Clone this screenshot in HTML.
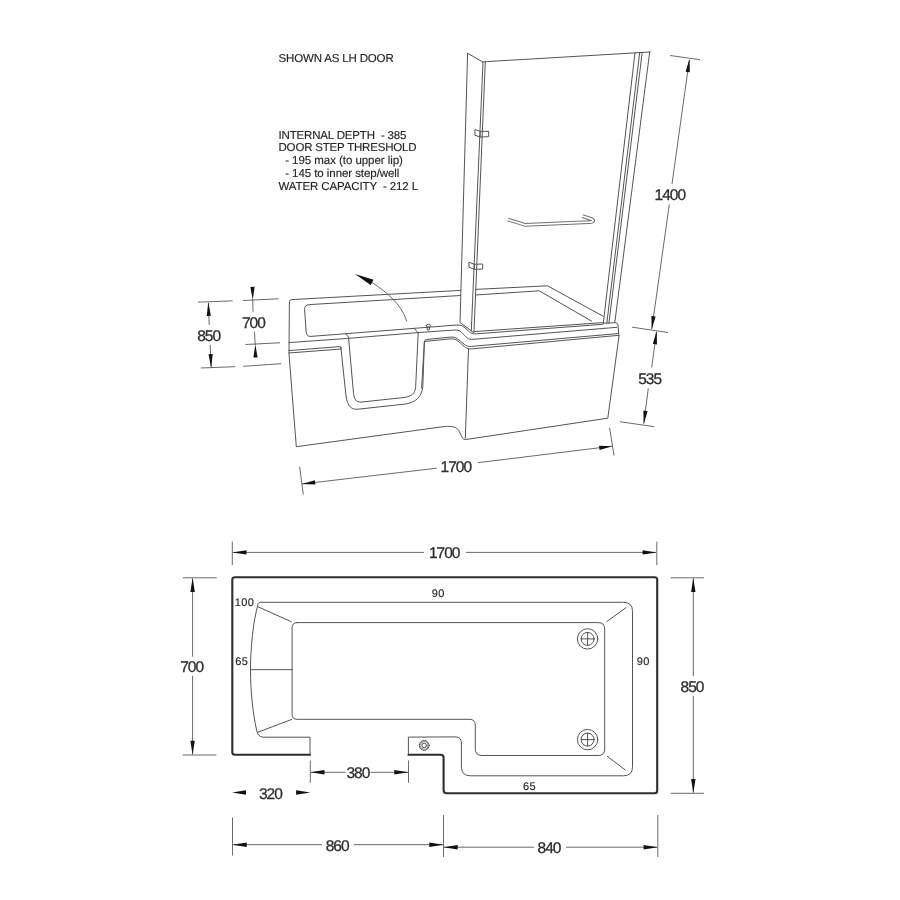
<!DOCTYPE html>
<html><head><meta charset="utf-8"><title>Bath technical drawing</title>
<style>
html,body{margin:0;padding:0;background:#fff;}
body{width:900px;height:900px;overflow:hidden;}
svg{display:block;will-change:transform;}
text{font-family:"Liberation Sans",Arial,sans-serif;fill:#222;text-rendering:geometricPrecision;}
.t{stroke:#545454;stroke-width:1;fill:none;stroke-linecap:round;stroke-linejoin:round;}
#iso .t{stroke:#545454;stroke-width:1;}
.g{stroke:#777;stroke-width:.9;fill:none;stroke-linecap:round;stroke-linejoin:round;}
.d{stroke:#626262;stroke-width:.95;fill:none;}
.k{stroke:#2e2e2e;stroke-width:2.1;fill:none;stroke-linejoin:round;}
.a{fill:#111;stroke:none;}
.dim{font-size:15.5px;text-anchor:middle;letter-spacing:-1px;fill:#2e2e2e;stroke:#2e2e2e;stroke-width:.3px;}
.sm{font-size:11px;fill:#3a3a3a;letter-spacing:.3px;stroke:#3a3a3a;stroke-width:.15px;}
.n{font-size:11.5px;fill:#3a3a3a;stroke:#3a3a3a;stroke-width:.15px;}
</style></head><body>
<svg width="900" height="900" viewBox="0 0 900 900">
<rect width="900" height="900" fill="#fff"/>

<!-- NOTES -->
<g class="n">
<text x="278.5" y="61.6" textLength="115.2">SHOWN AS LH DOOR</text>
<text x="278.5" y="138.5" textLength="128" xml:space="preserve">INTERNAL DEPTH  - 385</text>
<text x="278.5" y="151.4" textLength="138.1">DOOR STEP THRESHOLD</text>
<text x="285.2" y="164.2" textLength="117.7">- 195 max (to upper lip)</text>
<text x="285.2" y="177" textLength="114.2">- 145 to inner step/well</text>
<text x="278.5" y="190" textLength="139.6" xml:space="preserve">WATER CAPACITY  - 212 L</text>
</g>

<!-- ISO VIEW -->
<g id="iso">
<!-- bath outer -->
<path class="t" d="M460.5,290.4 L291.5,299.6 Q289.5,299.8 289.4,301.5 L289,354 L296.3,446.7 L441,427 C447,426.1 453,425.8 456.7,428.3 C459.8,430.6 460.5,435 462.7,438.2 C463.8,439.8 466,439.6 469.3,439 L607.8,418.2 L619.1,335.3"/>
<path class="t" d="M475.7,289.4 L547.5,285.8 L603.1,316.2"/>
<!-- basin inner -->
<path class="t" d="M460.6,295.5 L309.5,304.6 Q304.3,305 304.6,309.5 L306.2,332 Q306.6,336.8 311,336.4 L457,325 C461.5,324.7 463,326.2 466,328.8 C469.5,331.8 471.5,334.2 476.5,333.8 L603,324.3"/>
<path class="t" d="M475.7,295 L539.2,290.8 L591.6,321.1"/>
<!-- screen bottom -->
<path class="t" d="M474,331.6 L603.6,322.6"/>
<!-- rim outer top line (B) -->
<path class="t" d="M289,342.6 L346.5,338.5 L418,332.6 L454.5,330 C459,329.7 460.8,331.3 463.5,334.3 C466.2,337.3 468,339.8 473,339.3 L616.9,327.3"/>
<!-- rim lower lines left of door -->
<path class="t" d="M289,350.6 L339.8,346.6 Q341,346.5 341.1,347.8"/>
<path class="t" d="M289,353 L341.3,349"/>
<!-- door outer U -->
<path class="t" d="M340.8,347 L345.6,392 C346.6,403 349,410.2 358,409.2 L404,404.2 C416,402.8 421.5,397 422.8,386.7 L424.4,342 Q424.5,339.6 427,339.4"/>
<!-- door inner U -->
<path class="t" d="M345.5,333.7 L348.5,337 L353.3,391 C354,399 355.5,402.8 362,402 L404,397.5 C411.5,396.5 414.8,393.5 415.6,387.8 L418.2,333 L414.3,328.4"/>
<!-- rim lower lines right (C, C') -->
<path class="t" d="M427,339.4 L450.5,337.1 C455,336.7 457,338.3 460.5,341.2 C464,344.1 466.5,346.9 471.5,346.4 L617.8,333.6"/>
<path class="t" d="M425,341.4 L450.5,338.9 C455,338.5 457,340.1 460.5,343.2 C464,346.3 466.5,349.4 471.5,348.9 L619.1,335.3"/>
<path class="t" d="M424.4,341.5 L421.6,388"/>
<!-- panel corner vertical -->
<path class="t" d="M468.5,349 L465.3,438.2"/>
<!-- rim right end -->
<path class="t" d="M603.6,323.2 L615.5,322.7 Q617.5,322.8 618,324.8 L618.7,334.4"/>
<!-- knob -->
<path class="t" d="M426.2,325.6 Q426.2,324.3 428.3,324.3 Q430.4,324.3 430.4,325.6 Q430.4,326.8 429.4,327 L429.3,329.9 Q428.3,330.4 427.3,329.9 L427.2,327 Q426.2,326.8 426.2,325.6Z M427.2,327 L429.4,327"/>
<!-- screen post -->
<path class="t" d="M467.6,53.3 L460,322.5 L473.5,332.5"/>
<path class="t" d="M467.6,53.3 L483,62.1 L471.3,330.5"/>
<path class="t" d="M485.3,61.7 L474,332"/>
<path class="t" d="M483,62.1 L485.3,61.7 L650,52"/>
<!-- screen right -->
<path class="t" d="M635,52.8 L603.3,323.3"/>
<path class="t" d="M639.7,52.5 L606.8,323.3"/>
<path class="t" d="M642.2,52.3 L608.9,323.2"/>
<path class="t" d="M649.7,52 L614.8,322.6"/>
<!-- hinges -->
<path class="t" d="M475.3,129.7 L480.3,131.3 L488.7,131.3 L488.7,136.7 L480,137 L475.3,135.3Z M480.3,131.3 L480,137"/>
<path class="t" d="M469.3,262.3 L474.3,264.3 L482.7,264 L482.7,269 L474.3,269.3 L469.3,267.3Z M474.3,264.3 L474.3,269.3"/>
<!-- handle -->
<path d="M507.8,219.5 L525,224.8 L588.5,222.2 C594.5,221.8 594.5,219.8 590,218.6 L582.3,216.1" fill="none" stroke="#707070" stroke-width="3.8" stroke-linejoin="round"/>
<path d="M507.2,219.3 L525,224.8 L588.5,222.2 C594.5,221.8 594.5,219.8 590,218.6 L581.7,215.9" fill="none" stroke="#fff" stroke-width="1.75" stroke-linejoin="round"/>
<!-- door arrow -->
<path class="d" d="M372,282.5 C385,291 401,303 406.8,321.3"/>
<path class="a" d="M355,274 L373.6,279.8 L370.6,285Z"/>
</g>

<!-- ISO DIMENSIONS -->
<g id="isodim">
<!-- 850 -->
<path class="d" d="M198,302.2 L232.5,300.8 M200.8,368 L235,366.7 M208.4,303 L209.2,325 M210.2,345 L211.2,367"/>
<path class="a" d="M208.3,302 L210.9,315.8 L206.7,316Z M211.2,368 L208.5,354.2 L212.7,354Z"/>
<text class="dim" x="208.7" y="340.9">850</text>
<!-- 700 -->
<path class="d" d="M243,300.5 L278.7,298.8 M245.5,344.5 L280,342.8 M243.3,366.3 L281.3,363.7 M252.7,299 L253.1,311.7 M254.5,331.7 L255.2,345"/>
<path class="a" d="M252.8,300 L250.4,287 L254.6,286.8Z M255.3,344.2 L257.6,357.4 L253.4,357.6Z"/>
<text class="dim" x="253.4" y="327.8">700</text>
<!-- 1700 -->
<path class="d" d="M299.6,466.7 L303.3,494.4 M609.6,427.8 L614,455.6 M301.8,484 L436.7,468.2 M477.8,462.7 L612.2,446.2"/>
<path class="a" d="M301.8,484 L314.9,480.3 L315.4,484.5Z M612.2,446.2 L599,445.7 L599.6,449.9Z"/>
<text class="dim" x="455.8" y="471.6">1700</text>
<!-- 1400 -->
<path class="d" d="M670,55.5 L700,59.7 M632.2,327.2 L668,332.5 M689.3,60 L672,184 M669.3,204.4 L651.8,329"/>
<path class="a" d="M689.5,58.7 L689.8,72.3 L685.6,71.7Z M651.7,329.5 L651.4,315.9 L655.6,316.5Z"/>
<text class="dim" x="669.8" y="200">1400</text>
<!-- 535 -->
<path class="d" d="M620,421.7 L654.2,426.7 M656.5,332 L651.7,367.5 M648.3,388.3 L643.8,423.5"/>
<path class="a" d="M656.7,330.8 L657,344.4 L652.8,343.8Z M643.7,424.2 L643.4,410.6 L647.6,411.2Z"/>
<text class="dim" x="649.6" y="383.9">535</text>
</g>

<!-- PLAN VIEW -->
<g id="plan">
<path class="k" d="M310.9,754.7 L234.8,754.7 Q232.3,754.7 232.3,752.2 L232.3,579.8 Q232.3,577.3 234.8,577.3 L654.7,577.3 Q657.2,577.3 657.2,579.8 L657.2,790.8 Q657.2,793.3 654.7,793.3 L446.6,793.3 Q443.6,793.3 443.6,790.3 L443.6,757.7 Q443.6,754.7 440.6,754.7 L407.6,754.7"/>
<!-- outer ring -->
<path class="t" d="M310,754 L310,737.2 L263,737.2 C259,736.9 257.6,734 256.8,731 C252.5,712 250.5,690 250.5,669.7 C250.5,648 253,622 258.2,603.5 Q258.8,602.3 260.3,602.3 L623.5,602.3 Q632.5,602.3 632.5,611.3 L632.5,766.8 Q632.5,775.8 623.5,775.8 L470.4,775.8 Q461.4,775.8 461.4,766.8 L461.4,743 Q461.4,736.9 455.4,736.9 L408.4,737.1 L408.4,754"/>
<!-- inner rect -->
<path class="t" d="M297.1,622.6 L598.2,622.6 Q604.7,622.6 604.7,629.1 L604.7,749 Q604.7,755.5 598.2,755.5 L482,755.5 Q475.3,755.5 475.3,748.8 L475.3,725.3 Q475.3,719.3 469.3,719.3 L297.1,719.3 Q292.1,719.3 292.1,714.3 L292.1,627.6 Q292.1,622.6 297.1,622.6Z"/>
<path class="t" d="M257.8,606.7 L291.1,621.6 M258,732.2 L291.7,719.4 M250.5,669.7 L292.1,669.7 M606.9,621.5 L626.1,607.6 M607.2,756.3 L625.3,770"/>
<!-- drains -->
<g class="t">
<circle cx="587.6" cy="638.9" r="10.2"/><circle cx="587.6" cy="638.9" r="6.5"/>
<path d="M581.1,638.9 L594.1,638.9 M587.6,632.4 L587.6,645.4"/>
<circle cx="587.6" cy="739.6" r="10.2"/><circle cx="587.6" cy="739.6" r="6.5"/>
<path d="M581.1,739.6 L594.1,739.6 M587.6,733.1 L587.6,746.1"/>
<circle cx="424.2" cy="745.4" r="4.9"/><circle cx="424.2" cy="745.4" r="3.9" style="stroke:#888"/><circle cx="424.2" cy="745.4" r="2.3"/>
</g>
<g class="sm">
<text x="234.8" y="606.2">100</text>
<text x="235.3" y="665">65</text>
<text x="431.8" y="596.6">90</text>
<text x="636.8" y="664.9">90</text>
<text x="523" y="790.2">65</text>
</g>
</g>

<!-- PLAN DIMENSIONS -->
<g id="plandim">
<!-- 1700 top -->
<path class="d" d="M232.3,541.6 L232.3,565.1 M656.8,541.6 L656.8,565.1 M233,552.4 L424,552.4 M466,552.4 L656,552.4"/>
<path class="a" d="M232.3,552.4 L246.5,550.2 L246.5,554.6Z M656.8,552.4 L642.6,550.2 L642.6,554.6Z"/>
<text class="dim" x="444.2" y="557.6">1700</text>
<!-- 700 left -->
<path class="d" d="M182.9,577.8 L216.7,577.8 M182.5,755 L216.3,755 M192.6,578.5 L192.6,656.7 M192.6,675.8 L192.6,754.3"/>
<path class="a" d="M192.6,577.8 L194.8,592 L190.4,592Z M192.6,755 L194.8,740.8 L190.4,740.8Z"/>
<text class="dim" x="191.6" y="672.2">700</text>
<!-- 850 right -->
<path class="d" d="M670.7,577.8 L704,577.8 M670.7,793.3 L704,793.3 M693.3,578.5 L693.3,676 M693.3,696 L693.3,792.6"/>
<path class="a" d="M693.3,577.8 L695.5,592 L691.1,592Z M693.3,793.3 L695.5,779.1 L691.1,779.1Z"/>
<text class="dim" x="692.0" y="691.9">850</text>
<!-- 380 -->
<path class="d" d="M310.3,760.5 L310.3,782.8 M408.5,760.5 L408.5,782.8 M311,772.3 L345.5,772.3 M370.5,772.3 L408,772.3"/>
<path class="a" d="M310.3,772.3 L324.5,770.1 L324.5,774.5Z M408.5,772.3 L394.3,770.1 L394.3,774.5Z"/>
<text class="dim" x="357.9" y="777.9">380</text>
<!-- 320 -->
<path class="a" d="M232,792.5 L246,790.3 L246,794.7Z M310.3,792.5 L296.1,790.3 L296.1,794.7Z"/>
<text class="dim" x="270.4" y="798.5">320</text>
<!-- 860 -->
<path class="d" d="M232.5,817.5 L232.5,855.5 M443.5,815 L443.5,857 M233,844.7 L322,844.7 M353.6,844.7 L443,844.7"/>
<path class="a" d="M232.5,844.7 L246.7,842.5 L246.7,846.9Z M443.5,844.7 L429.3,842.5 L429.3,846.9Z"/>
<text class="dim" x="337.1" y="850.9">860</text>
<!-- 840 -->
<path class="d" d="M657.8,815 L657.8,857 M444,847.2 L534,847.2 M566,847.2 L657,847.2"/>
<path class="a" d="M443.5,847.2 L457.7,845 L457.7,849.4Z M657.8,847.2 L643.6,845 L643.6,849.4Z"/>
<text class="dim" x="549.0" y="852.8">840</text>
</g>
</svg>
</body></html>
